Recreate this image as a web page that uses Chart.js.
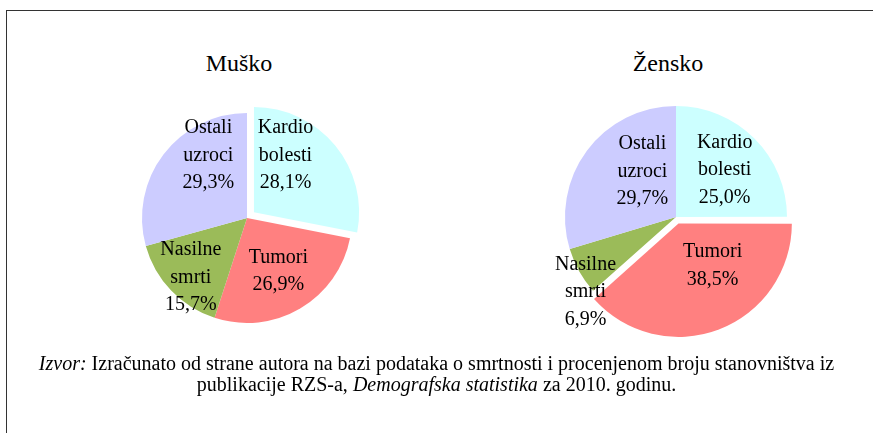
<!DOCTYPE html>
<html>
<head>
<meta charset="utf-8">
<script src="https://cdn.jsdelivr.net/npm/chart.js@4"></script>
<style>
  html, body { margin: 0; padding: 0; background: #fff; }
  body { width: 873px; height: 433px; position: relative; overflow: hidden; font-family: "Liberation Serif", "Times New Roman", serif; color: #000; }
  .frame { position: absolute; left: 6px; top: 10px; width: 900px; height: 500px; border-top: 1px solid #333; border-left: 1px solid #333; }
  .title { position: absolute; top: 49px; width: 200px; text-align: center; font-size: 24px; line-height: 28px; }
  .box { position: absolute; width: 280px; height: 280px; }
  .source { position: absolute; left: 0; width: 873px; top: 353px; text-align: center; font-size: 20px; line-height: 21px; white-space: nowrap; }
</style>
</head>
<body>
<div class="frame"></div>
<div class="title" style="left:139px">Muško</div>
<div class="title" style="left:568px">Žensko</div>
<div class="box" style="left:107px;top:78px"><canvas id="male"></canvas></div>
<div class="box" style="left:536px;top:77px"><canvas id="female"></canvas></div>
<div class="source"><i>Izvor:</i> Izračunato od strane autora na bazi podataka o smrtnosti i procenjenom broju stanovništva iz<br>publikacije RZS-a, <i>Demografska statistika</i> za 2010. godinu.</div>
<script>
// Data
const categories = [['Kardio', 'bolesti'], ['Tumori'], ['Nasilne', 'smrti'], ['Ostali', 'uzroci']];
const maleValues = [28.1, 26.9, 15.7, 29.3];
const femaleValues = [25.0, 38.5, 6.9, 29.7];
const sliceColors = ['#CCFFFF', '#FF8080', '#9BBB59', '#CCCCFF'];

function fmt(v) {
  return v.toFixed(1).replace('.', ',') + '%';
}

// draws the category + percent text inside each slice
const sliceLabels = {
  id: 'sliceLabels',
  afterDatasetsDraw(chart, args, opts) {
    const ctx = chart.ctx;
    const meta = chart.getDatasetMeta(0);
    const data = chart.data.datasets[0].data;
    ctx.save();
    ctx.font = '20px "Liberation Serif"';
    ctx.fillStyle = '#000';
    ctx.textAlign = 'center';
    ctx.textBaseline = 'middle';
    meta.data.forEach((arc, i) => {
      const p = arc.getProps(['x', 'y', 'startAngle', 'endAngle', 'outerRadius'], true);
      const mid = (p.startAngle + p.endAngle) / 2 + opts.nudge[i] * Math.PI / 180;
      const d = p.outerRadius * opts.dist[i];
      const cx = p.x + Math.cos(mid) * d;
      const cy = p.y + Math.sin(mid) * d;
      const lines = [...chart.data.labels[i], fmt(data[i])];
      lines.forEach((t, k) => {
        ctx.fillText(t, cx, cy + (k - (lines.length - 1) / 2) * 27.5);
      });
    });
    ctx.restore();
  }
};

function makePie(id, values, offsets, radius, labelOpts) {
  new Chart(document.getElementById(id), {
    type: 'pie',
    data: {
      labels: categories,
      datasets: [{
        data: values,
        backgroundColor: sliceColors,
        borderWidth: 0,
        offset: offsets, // chart.js moves a slice by offset / 4
      }],
    },
    options: {
      responsive: true,
      maintainAspectRatio: false,
      animation: false,
      radius: radius,
      plugins: {
        legend: { display: false },
        tooltip: { enabled: false },
        sliceLabels: labelOpts,
      },
    },
    plugins: [sliceLabels],
  });
}

makePie('male', maleValues, [36, 0, 0, 0], 105, {
  dist: [0.70, 0.59, 0.78, 0.70],
  nudge: [-19, 0, -3, 21],
});
makePie('female', femaleValues, [0, 28, 0, 0], 111, {
  dist: [0.61, 0.55, 1.06, 0.51],
  nudge: [1, -16, -10.5, 17],
});
</script>
</body>
</html>
